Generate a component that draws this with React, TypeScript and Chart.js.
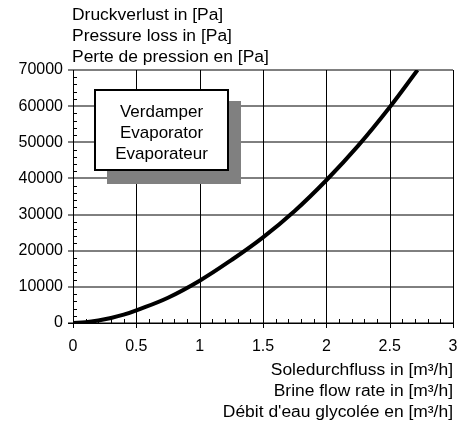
import React, { useEffect, useRef } from "react";
import { Chart, registerables } from "chart.js";

Chart.register(...registerables);

const flowRate = [0, 0.1, 0.2, 0.3, 0.4, 0.5, 0.75, 1.0, 1.25, 1.5, 1.75, 2.0, 2.25, 2.5, 2.72];
const pressureLoss = [0, 200, 700, 1400, 2300, 3500, 7000, 11700, 17400, 23700, 31000, 39500, 49000, 59700, 70000];

const yTitleLines = ["Druckverlust in [Pa]", "Pressure loss in [Pa]", "Perte de pression en [Pa]"];
const xTitleLines = ["Soledurchfluss in [m³/h]", "Brine flow rate in [m³/h]", "Débit d'eau glycolée en [m³/h]"];
const boxLines = ["Verdamper", "Evaporator", "Evaporateur"];

const X_MIN = 0, X_MAX = 3, X_STEP = 0.5, X_MINOR = 0.1;
const Y_MIN = 0, Y_MAX = 70000, Y_STEP = 10000, Y_MINOR = 2000;

const FONT = '"Liberation Sans", Arial, sans-serif';

const decorPlugin = {
  id: "decor",
  beforeDatasetsDraw(chart: any) {
    const ctx = chart.ctx;
    const xs = chart.scales.x, ys = chart.scales.y;
    const L = xs.left, R = xs.right, T = ys.top, B = ys.bottom;
    ctx.save();
    ctx.lineWidth = 1;
    ctx.strokeStyle = "#000";
    // horizontal grid (on integer pixel -> soft gray double row)
    ctx.beginPath();
    for (let v = Y_MIN; v <= Y_MAX; v += Y_STEP) {
      const py = Math.round(ys.getPixelForValue(v));
      ctx.moveTo(L - 5, py);
      ctx.lineTo(R, py);
    }
    ctx.stroke();
    // vertical grid (black, crisp)
    ctx.beginPath();
    for (let i = 0; i <= Math.round((X_MAX - X_MIN) / X_STEP); i++) {
      const v = X_MIN + i * X_STEP;
      const px = Math.round(xs.getPixelForValue(v)) + 0.5;
      ctx.moveTo(px, T);
      ctx.lineTo(px, B + 5);
    }
    ctx.stroke();
    // minor ticks
    ctx.beginPath();
    const nx = Math.round((X_MAX - X_MIN) / X_MINOR);
    for (let i = 1; i < nx; i++) {
      if (i % 5 === 0) continue;
      const px = Math.round(xs.getPixelForValue(X_MIN + i * X_MINOR)) + 0.5;
      ctx.moveTo(px, B);
      ctx.lineTo(px, B - 4);
    }
    for (let v = Y_MIN + Y_MINOR; v < Y_MAX; v += Y_MINOR) {
      if (v % Y_STEP === 0) continue;
      const py = Math.round(ys.getPixelForValue(v)) + 0.5;
      ctx.moveTo(L, py);
      ctx.lineTo(L + 4, py);
    }
    ctx.stroke();
    // axis lines
    ctx.beginPath();
    ctx.moveTo(Math.round(L) + 0.5, T);
    ctx.lineTo(Math.round(L) + 0.5, B + 5);
    ctx.moveTo(L - 5, Math.round(B) + 0.5);
    ctx.lineTo(R + 1, Math.round(B) + 0.5);
    ctx.stroke();
    // box with shadow
    const bx = 95, by = 90, bw = 133, bh = 80;
    ctx.fillStyle = "#808080";
    ctx.fillRect(bx + 12, by + 11, bw + 1, bh + 3);
    ctx.fillStyle = "#fff";
    ctx.fillRect(bx, by, bw, bh);
    ctx.strokeStyle = "#000";
    ctx.lineWidth = 2;
    ctx.strokeRect(bx, by, bw, bh);
    ctx.fillStyle = "#000";
    ctx.font = `17px ${FONT}`;
    ctx.textAlign = "center";
    ctx.textBaseline = "alphabetic";
    const baselines = [116.5, 137.5, 158.5];
    boxLines.forEach((t, i) => ctx.fillText(t, bx + bw / 2, baselines[i]));
    ctx.restore();
  },
  afterDraw(chart: any) {
    const ctx = chart.ctx;
    ctx.save();
    ctx.fillStyle = "#000";
    ctx.font = `16px ${FONT}`;
    ctx.textBaseline = "alphabetic";
    const sx = 1.09;
    ctx.textAlign = "left";
    const yb = [20, 40.8, 61.5];
    yTitleLines.forEach((t, i) => {
      ctx.save();
      ctx.translate(72, yb[i]);
      ctx.scale(sx, 1);
      ctx.fillText(t, 0, 0);
      ctx.restore();
    });
    ctx.textAlign = "right";
    const xb = [375, 396, 416.7];
    xTitleLines.forEach((t, i) => {
      ctx.save();
      ctx.translate(453, xb[i]);
      ctx.scale(sx, 1);
      ctx.fillText(t, 0, 0);
      ctx.restore();
    });
    ctx.restore();
  },
};

export default function App() {
  const ref = useRef<HTMLCanvasElement | null>(null);
  useEffect(() => {
    if (!ref.current) return;
    const chart = new Chart(ref.current, {
      type: "scatter",
      data: {
        datasets: [
          {
            data: flowRate.map((x, i) => ({ x, y: pressureLoss[i] })),
            showLine: true,
            borderColor: "#000",
            borderWidth: 4,
            pointRadius: 0,
            tension: 0.4,
            fill: false,
          },
        ],
      },
      options: {
        animation: false,
        responsive: true,
        maintainAspectRatio: false,
        layout: { padding: { top: 70, right: 9, left: 0, bottom: 0 } },
        plugins: { legend: { display: false }, tooltip: { enabled: false } },
        scales: {
          x: {
            type: "linear",
            min: X_MIN,
            max: X_MAX,
            ticks: {
              stepSize: X_STEP,
              color: "#000",
              font: { family: FONT, size: 16 },
              padding: 9,
              maxRotation: 0,
              callback: (v: any) => String(v),
            },
            grid: { display: true, drawOnChartArea: false, color: "rgba(0,0,0,0)", tickLength: 5 },
            border: { display: false },
            afterFit: (s: any) => {
              s.height = 100;
              s.paddingLeft = 0;
              s.paddingRight = 0;
            },
          },
          y: {
            type: "linear",
            min: Y_MIN,
            max: Y_MAX,
            ticks: {
              stepSize: Y_STEP,
              color: "#000",
              font: { family: FONT, size: 16 },
              padding: 5,
              callback: (v: any) => String(v),
            },
            grid: { display: true, drawOnChartArea: false, color: "rgba(0,0,0,0)", tickLength: 5 },
            border: { display: false },
            afterFit: (s: any) => {
              s.width = 73;
              s.paddingTop = 0;
              s.paddingBottom = 0;
            },
          },
        },
      },
      plugins: [decorPlugin],
    });
    return () => chart.destroy();
  }, []);
  return (
    <div style={{ position: "fixed", left: 0, top: 0, width: 462, height: 423, background: "#fff" }}>
      <canvas ref={ref} />
    </div>
  );
}
